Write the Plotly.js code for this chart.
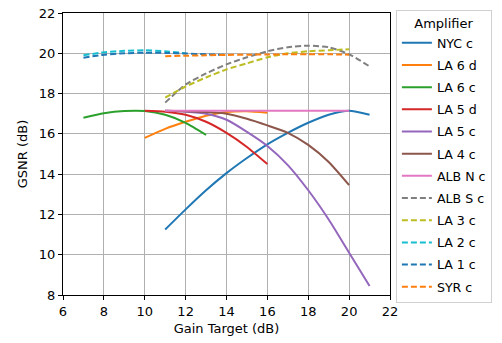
<!DOCTYPE html>
<html>
<head>
<meta charset="utf-8">
<script src="https://cdn.plot.ly/plotly-3.0.1.min.js"></script>
<style>html,body{margin:0;padding:0;background:#fff;}#chart{width:502px;height:343px;}</style>
</head>
<body>
<div id="chart"></div>
<script>
// Series names (legend order)
const names = ["NYC c","LA 6 d","LA 6 c","LA 5 d","LA 5 c","LA 4 c","ALB N c","ALB S c","LA 3 c","LA 2 c","LA 1 c","SYR c"];

// Gain targets (dB) and GSNR (dB) for each amplifier
const nycX  = [11,12,13,14,15,16,17,18,19,20,21];
const nycY  = [11.25,12.25,13.2,14.05,14.8,15.48,16.05,16.55,16.95,17.15,16.95];

const la6dX = [10,11,12,13,14,15,16];
const la6dY = [15.8,16.25,16.6,16.9,17.08,17.12,17.05];

const la6cX = [7,8,9,10,11,12,13];
const la6cY = [16.8,17.02,17.13,17.13,16.95,16.55,15.95];

const la5dX = [10,11,12,13,14,15,16];
const la5dY = [17.15,17.1,16.95,16.6,16.05,15.35,14.5];

const la5cX = [11,12,13,14,15,16,17,18,19,20,21];
const la5cY = [17.15,17.1,17.0,16.7,16.1,15.4,14.45,13.2,11.75,10.1,8.45];

const la4cX = [11,12,13,14,15,16,17,18,19,20];
const la4cY = [17.15,17.12,17.08,17.0,16.75,16.42,16.05,15.45,14.6,13.45];

const albNX = [11,12,13,14,15,16,17,18,19,20];
const albNY = [17.15,17.15,17.15,17.15,17.15,17.15,17.15,17.15,17.15,17.15];

const albSX = [11,12,13,14,15,16,17,18,19,20,21];
const albSY = [17.55,18.45,19.0,19.45,19.8,20.1,20.3,20.38,20.3,19.95,19.35];

const la3cX = [11,12,13,14,15,16,17,18,19,20];
const la3cY = [17.8,18.35,18.8,19.2,19.5,19.8,20.0,20.1,20.15,20.2];

const la2cX = [7,8,9,10,11,12];
const la2cY = [19.9,20.05,20.12,20.15,20.1,20.0];

const la1cX = [7,8,9,10,11,12,13,14];
const la1cY = [19.78,19.93,20.0,20.03,20.02,19.99,19.95,19.92];

const syrX  = [11,12,13,14,15,16,17,18,19,20];
const syrY  = [19.85,19.88,19.9,19.92,19.93,19.94,19.95,19.95,19.95,19.93];

// Axis ticks
const xTicks = [6,8,10,12,14,16,18,20,22];
const yTicks = [8,10,12,14,16,18,20,22];

const xs = [nycX,la6dX,la6cX,la5dX,la5cX,la4cX,albNX,albSX,la3cX,la2cX,la1cX,syrX];
const ys = [nycY,la6dY,la6cY,la5dY,la5cY,la4cY,albNY,albSY,la3cY,la2cY,la1cY,syrY];
const colors = ["#1f77b4","#ff7f0e","#2ca02c","#d62728","#9467bd","#8c564b","#e377c2","#7f7f7f","#bcbd22","#17becf","#1f77b4","#ff7f0e"];
const dashed = [false,false,false,false,false,false,false,true,true,true,true,true];

const traces = names.map((n,i)=>({
  type:"scatter", mode:"lines", name:n,
  x: xs[i], y: ys[i],
  legendgroup: "g"+i,
  line:{color:colors[i], width:2, dash: dashed[i] ? "6px,3px" : "solid", shape:"spline", smoothing:0.6}
}));

const font = {family:"DejaVu Sans, sans-serif", size:13, color:"#000"};

const layout = {
  width:502, height:343,
  margin:{l:63, r:111, t:10, b:48, pad:0},
  paper_bgcolor:"#fff", plot_bgcolor:"#fff",
  font: font,
  showlegend:true,
  legend:{
    title:{text:"Amplifier", font:font, side:"top center"},
    x:1.018, xanchor:"left", y:1.01, yanchor:"top",
    bordercolor:"#d0d0d0", borderwidth:1, bgcolor:"#fff",
    font:{family:"DejaVu Sans, sans-serif", size:12.6, color:"#000"},
    itemwidth:30, maxheight:340, tracegroupgap:2.8
  },
  xaxis:{
    range:[6,22], tickvals:xTicks, ticktext:xTicks.map(String),
    showgrid:true, gridcolor:"#b0b0b0", gridwidth:1,
    zeroline:false, showline:true, linecolor:"#000", linewidth:1, mirror:true,
    ticks:"outside", ticklen:4, tickcolor:"#000",
    title:{text:"Gain Target (dB)", font:font, standoff:6}
  },
  yaxis:{
    range:[8,22], tickvals:yTicks, ticktext:yTicks.map(String),
    showgrid:true, gridcolor:"#b0b0b0", gridwidth:1,
    zeroline:false, showline:true, linecolor:"#000", linewidth:1, mirror:true,
    ticks:"outside", ticklen:4, tickcolor:"#000",
    title:{text:"GSNR (dB)", font:font, standoff:8}
  }
};

Plotly.newPlot("chart", traces, layout, {displayModeBar:false, staticPlot:true});
</script>
</body>
</html>
